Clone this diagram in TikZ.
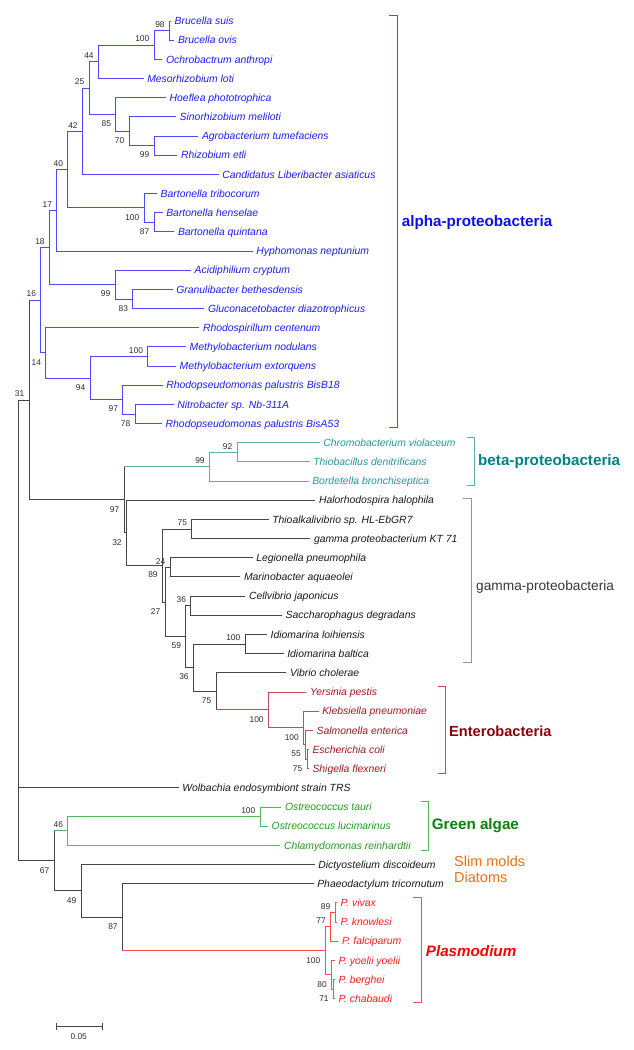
\documentclass[tikz,border=0pt]{standalone}
\usepackage{fontspec}
\setmainfont{Liberation Sans}
\usetikzlibrary{calc}
\definecolor{aline}{RGB}{75,75,255}
\definecolor{atext}{RGB}{30,30,245}
\definecolor{alab}{RGB}{15,15,235}
\definecolor{bline}{RGB}{90,175,175}
\definecolor{btext}{RGB}{40,150,150}
\definecolor{blab}{RGB}{0,130,130}
\definecolor{gline}{RGB}{70,70,70}
\definecolor{gtext}{RGB}{25,25,25}
\definecolor{gbrk}{RGB}{150,150,150}
\definecolor{glab}{RGB}{55,55,55}
\definecolor{eline}{RGB}{185,80,90}
\definecolor{etext}{RGB}{160,25,35}
\definecolor{elab}{RGB}{135,0,10}
\definecolor{grline}{RGB}{85,185,85}
\definecolor{grtext}{RGB}{35,155,35}
\definecolor{grlab}{RGB}{10,130,10}
\definecolor{orlab}{RGB}{232,112,25}
\definecolor{pline}{RGB}{255,80,80}
\definecolor{ptext}{RGB}{255,30,30}
\definecolor{plab}{RGB}{255,0,0}
\definecolor{bsc}{RGB}{45,45,45}
\newcommand\lfont{\fontsize{10.4}{12}\selectfont\itshape}
\newcommand\bsfont{\fontsize{8.4}{10}\selectfont}
\newcommand\grpfont{\fontsize{15.2}{17}\selectfont\bfseries}
\newcommand\lf[5]{\node[leaf,text=#5] (#1) at (#2,{21+19.17*#3}) {#4};}
\newcommand\jn[7]{%
 \coordinate (tmpm) at ($(#3)!.5!(#4)$);
 \coordinate (tmpx) at (#2,0);
 \coordinate (#1) at (tmpx |- tmpm);
 \draw[br,#5] (#1 |- #3) -- (#1 |- #4);
 \draw[br,#5] (#1 |- #3) -- (#3);
 \draw[br,#5] (#1 |- #4) -- (#4);
 \node[bs#7] at (#1) {#6};}
\tikzset{
 br/.style={line width=0.9pt, line cap=rect},
 brk/.style={line width=1pt},
 leaf/.style={anchor=west, inner xsep=3.8pt, inner ysep=0pt, font=\lfont, text height=7.4pt, text depth=0pt},
 bsa/.style={anchor=east, xshift=-4.5pt, yshift=6.2pt, inner sep=0pt, font=\bsfont, text=bsc, text height=6pt, text depth=0pt},
 bsb/.style={anchor=east, xshift=-4.5pt, yshift=-9.3pt, inner sep=0pt, font=\bsfont, text=bsc, text height=6pt, text depth=0pt},
 grp/.style={anchor=base west, inner sep=0pt, font=\grpfont},
}
\begin{document}
\begin{tikzpicture}[x=1pt,y=-1pt]
\useasboundingbox (0,0) rectangle (633,1050);
% leaves
\lf{suis}{170.7}{0}{Brucella suis}{atext}
\lf{ovis}{174}{1}{Brucella ovis}{atext}
\lf{ochro}{162}{2}{Ochrobactrum anthropi}{atext}
\lf{meso}{143.3}{3}{Mesorhizobium loti}{atext}
\lf{hoef}{165.7}{4}{Hoeflea phototrophica}{atext}
\lf{sino}{175.7}{5}{Sinorhizobium meliloti}{atext}
\lf{agro}{198}{6}{Agrobacterium tumefaciens}{atext}
\lf{rhiz}{177}{7}{Rhizobium etli}{atext}
\lf{cand}{218.3}{8}{Candidatus Liberibacter asiaticus}{atext}
\lf{trib}{156.7}{9}{Bartonella tribocorum}{atext}
\lf{hens}{162.3}{10}{Bartonella henselae}{atext}
\lf{quin}{174}{11}{Bartonella quintana}{atext}
\lf{hyph}{252.3}{12}{Hyphomonas neptunium}{atext}
\lf{acid}{190.7}{13}{Acidiphilium cryptum}{atext}
\lf{gran}{172.3}{14}{Granulibacter bethesdensis}{atext}
\lf{gluc}{204}{15}{Gluconacetobacter diazotrophicus}{atext}
\lf{rhsp}{199}{16}{Rhodospirillum centenum}{atext}
\lf{mnod}{185.7}{17}{Methylobacterium nodulans}{atext}
\lf{mext}{175.7}{18}{Methylobacterium extorquens}{atext}
\lf{bb18}{162.3}{19}{Rhodopseudomonas palustris BisB18}{atext}
\lf{nitr}{173.3}{20}{Nitrobacter sp. Nb-311A}{atext}
\lf{ba53}{161.7}{21}{Rhodopseudomonas palustris BisA53}{atext}
\lf{chro}{319.3}{22}{Chromobacterium violaceum}{btext}
\lf{thib}{309.3}{23}{Thiobacillus denitrificans}{btext}
\lf{bord}{308.3}{24}{Bordetella bronchiseptica}{btext}
\lf{halo}{315}{25}{Halorhodospira halophila}{gtext}
\lf{thal}{268.3}{26}{Thioalkalivibrio sp. HL-EbGR7}{gtext}
\lf{gkt}{310}{27}{gamma proteobacterium KT 71}{gtext}
\lf{legi}{252.3}{28}{Legionella pneumophila}{gtext}
\lf{mari}{240}{29}{Marinobacter aquaeolei}{gtext}
\lf{cell}{245}{30}{Cellvibrio japonicus}{gtext}
\lf{sacc}{281.7}{31}{Saccharophagus degradans}{gtext}
\lf{idlo}{266.7}{32}{Idiomarina loihiensis}{gtext}
\lf{idba}{283.3}{33}{Idiomarina baltica}{gtext}
\lf{vibr}{286}{34}{Vibrio cholerae}{gtext}
\lf{yers}{306}{35}{Yersinia pestis}{etext}
\lf{kleb}{318.3}{36}{Klebsiella pneumoniae}{etext}
\lf{salm}{312.7}{37}{Salmonella enterica}{etext}
\lf{esch}{308.5}{38}{Escherichia coli}{etext}
\lf{shig}{308.5}{39}{Shigella flexneri}{etext}
\lf{wolb}{178.3}{40}{Wolbachia endosymbiont strain TRS}{gtext}
\lf{otau}{281}{41}{Ostreococcus tauri}{grtext}
\lf{oluc}{267.7}{42}{Ostreococcus lucimarinus}{grtext}
\lf{chla}{280}{43}{Chlamydomonas reinhardtii}{grtext}
\lf{dict}{314.3}{44}{Dictyostelium discoideum}{gtext}
\lf{phae}{313.3}{45}{Phaeodactylum tricornutum}{gtext}
\lf{viva}{336.7}{46}{P. vivax}{ptext}
\lf{know}{336.5}{47}{P. knowlesi}{ptext}
\lf{falc}{338}{48}{P. falciparum}{ptext}
\lf{yoel}{334.5}{49}{P. yoelii yoelii}{ptext}
\lf{berg}{334.5}{50}{P. berghei}{ptext}
\lf{chab}{334.5}{51}{P. chabaudi}{ptext}
% internal nodes
\jn{A1}{169.3}{suis}{ovis}{aline}{98}{a}
\jn{A2}{154}{A1}{ochro}{aline}{100}{a}
\jn{A3}{98.3}{A2}{meso}{aline}{44}{a}
\jn{A4}{154}{agro}{rhiz}{aline}{99}{b}
\jn{A5}{129}{sino}{A4}{aline}{70}{b}
\jn{A6}{115.7}{hoef}{A5}{aline}{85}{b}
\jn{A7}{89}{A3}{A6}{aline}{25}{a}
\jn{A8}{82.3}{A7}{cand}{aline}{42}{a}
\jn{B1}{154}{hens}{quin}{aline}{87}{b}
\jn{B2}{144}{trib}{B1}{aline}{100}{b}
\jn{A9}{67.7}{A8}{B2}{aline}{40}{a}
\jn{A10}{56.7}{A9}{hyph}{aline}{17}{a}
\jn{G1}{132.7}{gran}{gluc}{aline}{83}{b}
\jn{G2}{115}{acid}{G1}{aline}{99}{b}
\jn{A12}{49.3}{A10}{G2}{aline}{18}{a}
\jn{M1}{147.7}{mnod}{mext}{aline}{100}{a}
\jn{N1}{135}{nitr}{ba53}{aline}{78}{b}
\jn{N2}{122.7}{bb18}{N1}{aline}{97}{b}
\jn{N3}{90}{M1}{N2}{aline}{94}{b}
\jn{R1}{45.7}{rhsp}{N3}{aline}{14}{b}
\jn{A13}{40.7}{A12}{R1}{aline}{16}{a}
\jn{Be1}{237}{chro}{thib}{bline}{92}{a}
\jn{Be2}{209.3}{Be1}{bord}{bline}{99}{a}
\jn{T75}{191.7}{thal}{gkt}{gline}{75}{a}
\jn{LM}{170}{legi}{mari}{gline}{24}{a}
\jn{CS}{190.7}{cell}{sacc}{gline}{36}{a}
\jn{ID}{245}{idlo}{idba}{gline}{100}{a}
\jn{E3}{307}{esch}{shig}{eline}{75}{b}
\jn{E2}{305.5}{salm}{E3}{eline}{55}{b}
\jn{K}{303.5}{kleb}{E2}{eline}{100}{b}
\jn{EN}{268.3}{yers}{K}{eline}{100}{b}
\jn{V}{216}{vibr}{EN}{gline}{75}{b}
\jn{W}{193.3}{ID}{V}{gline}{36}{b}
\jn{Z}{185.7}{CS}{W}{gline}{59}{b}
\jn{Y}{165}{LM}{Z}{gline}{27}{b}
\jn{X}{162.3}{T75}{Y}{gline}{89}{b}
\jn{G32}{126.3}{halo}{X}{gline}{32}{b}
\jn{PG}{124}{Be2}{G32}{gline}{97}{b}
\jn{P1}{29}{A13}{PG}{gline}{31}{a}
\jn{OO}{260}{otau}{oluc}{grline}{100}{a}
\jn{GR}{67.7}{OO}{chla}{grline}{46}{a}
\jn{VK}{335}{viva}{know}{pline}{89}{a}
\jn{Q1}{330.5}{VK}{falc}{pline}{77}{a}
\jn{BC}{333.3}{berg}{chab}{pline}{71}{b}
\jn{Q2}{331.5}{yoel}{BC}{pline}{80}{b}
\jn{PL}{325}{Q1}{Q2}{pline}{100}{b}
\jn{PP}{122.3}{phae}{PL}{gline}{87}{b}
\jn{DP}{81}{dict}{PP}{gline}{49}{b}
\jn{EU}{54}{GR}{DP}{gline}{67}{b}
% root
\coordinate (rx) at (18.3,0);
\coordinate (ROOT) at (rx |- wolb);
\draw[br,gline] (ROOT |- P1) -- (ROOT |- EU);
\draw[br,gline] (ROOT |- P1) -- (P1);
\draw[br,gline] (ROOT) -- (wolb);
\draw[br,gline] (ROOT |- EU) -- (EU);
% coloured stems
\draw[br,aline] (P1 |- A13) -- (A13);
\draw[br,bline] (PG |- Be2) -- (Be2);
\draw[br,eline] (V |- EN) -- (EN);
\draw[br,grline] (EU |- GR) -- (GR);
\draw[br,pline] (PP |- PL) -- (PL);
% brackets
\draw[brk,aline] (389,15.7) -- (397,15.7) -- (397,427.7) -- (389,427.7);
\draw[brk,bline] (466.7,437.7) -- (474,437.7) -- (474,485.7) -- (466.7,485.7);
\draw[brk,gbrk] (463.3,498.7) -- (471.7,498.7) -- (471.7,662.7) -- (463.3,662.7);
\draw[brk,eline] (437.7,686.7) -- (445,686.7) -- (445,773.3) -- (437.7,773.3);
\draw[brk,grline] (420.7,801.7) -- (428.3,801.7) -- (428.3,850) -- (420.7,850);
\draw[brk,pline] (413.3,897.3) -- (421.7,897.3) -- (421.7,1002.7) -- (413.3,1002.7);
% group labels
\node[grp,text=alab] (lalpha) at (401.7,226.5) {alpha-proteobacteria};
\node[grp,text=blab] (lbeta) at (478,465.6) {beta-proteobacteria};
\node[grp,text=glab,font=\fontsize{13.7}{16}\selectfont] (lgamma) at (476,590.2) {gamma-proteobacteria};
\node[grp,text=elab,font=\fontsize{14.6}{17}\selectfont\bfseries] (lentero) at (449,736) {Enterobacteria};
\node[grp,text=grlab] (lgreen) at (431.7,829.6) {Green algae};
\node[grp,text=orlab,font=\fontsize{14.5}{16}\selectfont] (lslim) at (454,866.2) {Slim molds};
\node[grp,text=orlab,font=\fontsize{14.5}{16}\selectfont] (ldiat) at (454,882) {Diatoms};
\node[grp,text=plab,font=\fontsize{15.2}{17}\selectfont\bfseries\itshape] (lplas) at (425.7,956.2) {Plasmodium};
% scale bar
\coordinate (sb1) at (56.7,1026.7);
\coordinate (sb2) at (102.7,1026.7);
\draw[br,gline,line cap=butt] (sb1) -- (sb2);
\draw[br,gline,line cap=butt] ([yshift=3.5pt]sb1) -- ([yshift=-3.5pt]sb1);
\draw[br,gline,line cap=butt] ([yshift=3.5pt]sb2) -- ([yshift=-3.5pt]sb2);
\node[font=\bsfont,text=bsc,inner sep=0pt] (sbl) at (78.7,1036.7) {0.05};
\end{tikzpicture}
\end{document}
